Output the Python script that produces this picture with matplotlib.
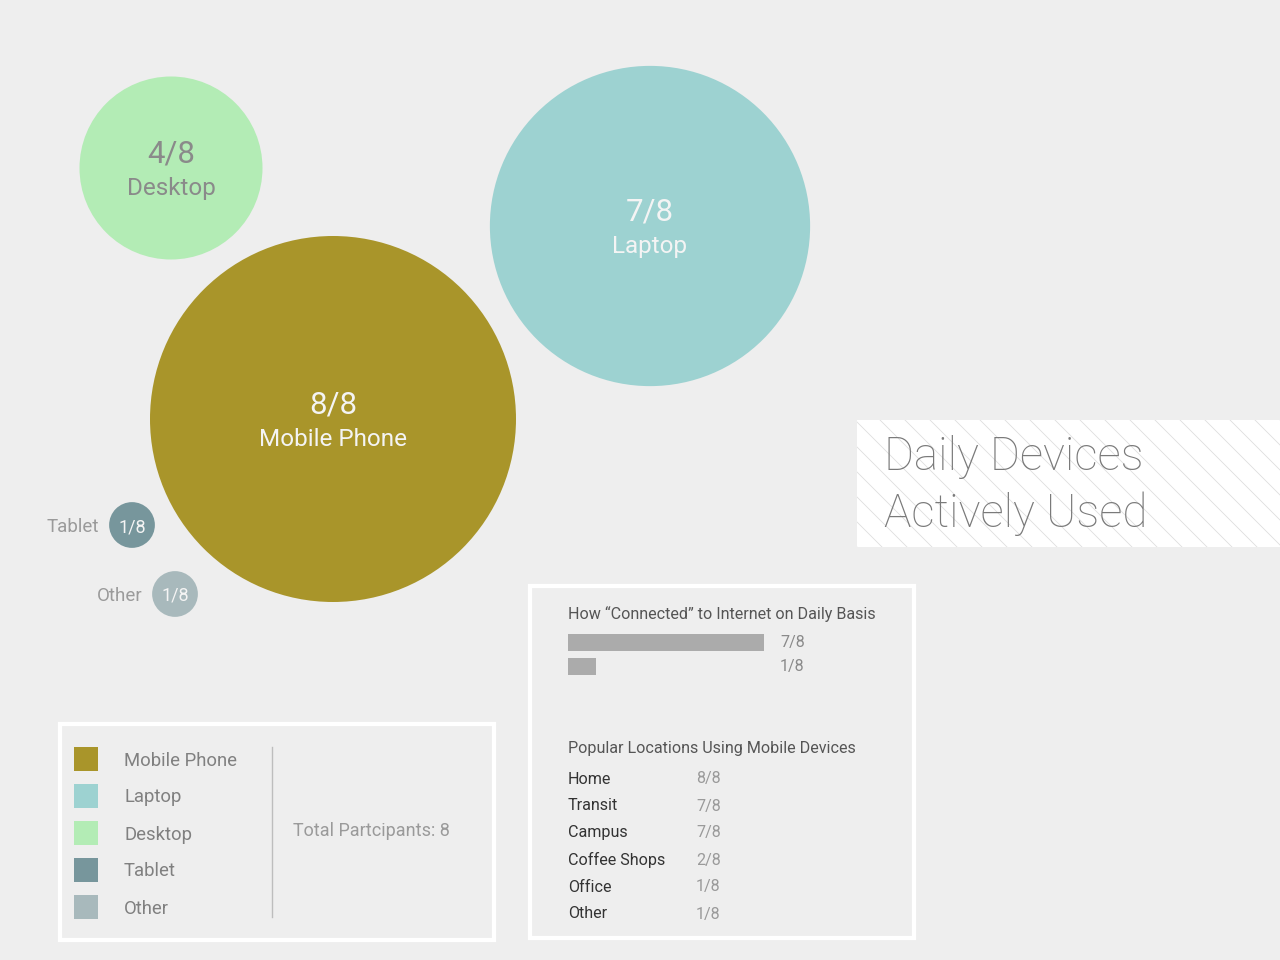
import matplotlib
matplotlib.use("Agg")
import matplotlib.pyplot as plt
from matplotlib.patches import Circle, Rectangle
import numpy as np

plt.rcParams['font.family'] = ['Roboto', 'DejaVu Sans']

# ---- data ----
total = 8
devices = ["Mobile Phone", "Laptop", "Desktop", "Tablet", "Other"]
device_counts = [8, 7, 4, 1, 1]
device_colors = ["#a9952a", "#9dd2d1", "#b3ecb5", "#77969c", "#a8b9bc"]

connected_counts = [7, 1]

locations = ["Home", "Transit", "Campus", "Coffee Shops", "Office", "Other"]
location_counts = [8, 7, 7, 2, 1, 1]

title_lines = ["Daily Devices", "Actively Used"]

# ---- layout (pixel coords) ----
BG = "#eeeeee"
fig = plt.figure(figsize=(12.8, 9.6), dpi=100, facecolor=BG)
ax = fig.add_axes([0, 0, 1, 1])
ax.set_xlim(0, 1280)
ax.set_ylim(960, 0)
ax.axis('off')
ax.set_facecolor(BG)

max_r = 183.0
centers = {"Mobile Phone": (333, 419), "Laptop": (650, 226), "Desktop": (171, 168),
           "Tablet": (132, 525), "Other": (175, 594)}

for name, cnt, col in zip(devices, device_counts, device_colors):
    cx, cy = centers[name]
    r = max_r * cnt / total
    ax.add_patch(Circle((cx, cy), r, facecolor=col, edgecolor='none'))
    frac = f"{cnt}/{total}"
    if name in ("Mobile Phone", "Laptop", "Desktop"):
        tc = "#8a8a8a" if name == "Desktop" else "#f4f4f4"
        ax.text(cx, cy - 14, frac, ha='center', va='center', fontsize=22.5, color=tc)
        ax.text(cx, cy + 21, name, ha='center', va='center', fontsize=17.5, color=tc)
    else:
        ax.text(cx, cy + 2, frac, ha='center', va='center', fontsize=13, color="#f4f4f4")
        ax.text(cx - r - 10, cy + 2, name, ha='right', va='center', fontsize=13.5, color="#9a9a9a")

# ---- title box with diagonal hatch ----
tx0, ty0, tx1, ty1 = 857, 420, 1280, 547
rect = Rectangle((tx0, ty0), tx1 - tx0, ty1 - ty0, facecolor='white', edgecolor='none')
ax.add_patch(rect)
h = ty1 - ty0
for x in np.arange(tx0 - h, tx1 + 25, 25):
    ln, = ax.plot([x, x + h], [ty0, ty1], color="#dedede", lw=0.6)
    ln.set_clip_path(rect)
ax.text(884, 457, title_lines[0], ha='left', va='center', fontsize=33, color="#7a7a7a", fontweight='light')
ax.text(884, 514, title_lines[1], ha='left', va='center', fontsize=33, color="#7a7a7a", fontweight='light')

# ---- legend box ----
ax.add_patch(Rectangle((60, 724), 434, 216, facecolor=BG, edgecolor='white', lw=3))
for i, (name, col) in enumerate(zip(devices, device_colors)):
    y = 759 + 37 * i
    ax.add_patch(Rectangle((74, y - 12), 24, 24, facecolor=col, edgecolor='none'))
    ax.text(124, y + 1.5, name, ha='left', va='center', fontsize=13.3, color="#808080")
ax.plot([272, 272], [747, 917], color="#bdbdbd", lw=1)
ax.text(293, 831.5, f"Total Partcipants: {total}", ha='left', va='center', fontsize=13, color="#9a9a9a")

# ---- right info box ----
ax.add_patch(Rectangle((530, 586), 384, 352, facecolor=BG, edgecolor='white', lw=3))
ax.text(568, 614, "How \u201cConnected\u201d to Internet on Daily Basis", ha='left', va='center',
        fontsize=11.6, color="#555555")
unit = 196 / 7
bar_y = [642, 666]
ax.barh(bar_y, [c * unit for c in connected_counts], left=568, height=17, color="#ababab")
for y, c in zip(bar_y, connected_counts):
    ax.text(780, y + 1, f"{c}/{total}", ha='left', va='center', fontsize=11.5, color="#8a8a8a")

ax.text(568, 749, "Popular Locations Using Mobile Devices", ha='left', va='center',
        fontsize=11.6, color="#555555")
for i, (loc, c) in enumerate(zip(locations, location_counts)):
    y = 779 + 27 * i
    ax.text(568, y, loc, ha='left', va='center', fontsize=11.6, color="#333333")
    ax.text(696, y, f"{c}/{total}", ha='left', va='center', fontsize=11.6, color="#9a9a9a")

fig.savefig("out.png", dpi=100, facecolor=BG)
